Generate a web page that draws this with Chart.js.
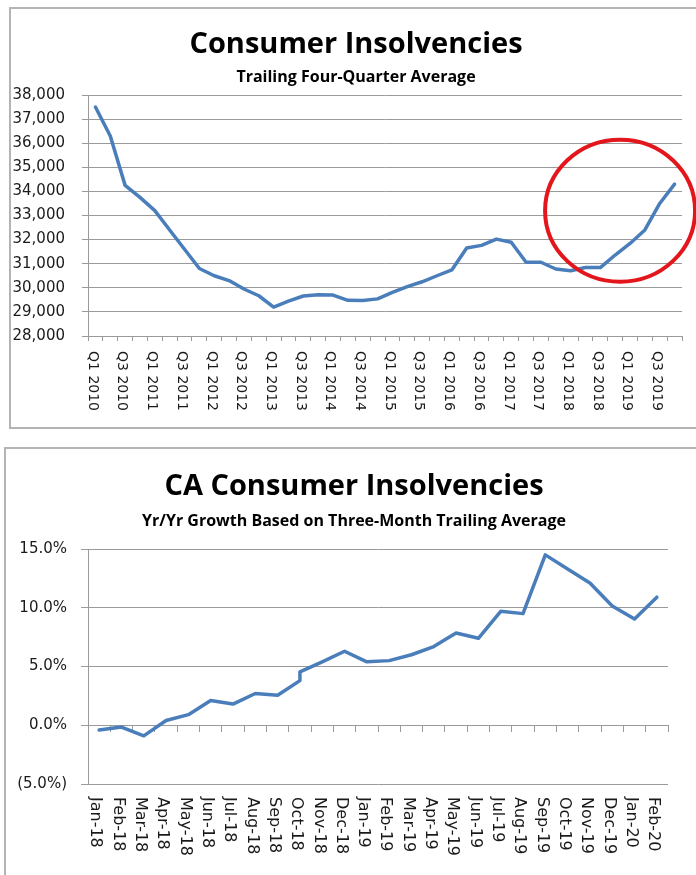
<!DOCTYPE html>
<html lang="en">
<head>
<meta charset="utf-8">
<title>Consumer Insolvencies</title>
<script src="https://cdn.jsdelivr.net/npm/chart.js@4.4.1/dist/chart.umd.min.js"></script>
<style>
  html, body { margin: 0; padding: 0; background: #fff; }
  body { position: relative; width: 696px; height: 875px; overflow: hidden; }
  .frame { position: absolute; box-sizing: border-box; border: 2px solid #b4b4b4; }
  #frameTop    { left: 9px; top: 7px;   width: 720px; height: 422px; }
  #frameBottom { left: 4px; top: 447px; width: 720px; height: 460px; }
  canvas { position: absolute; }
  #insolvencyChart { left: 9px; top: 0; }
  #growthChart     { left: 4px; top: 440px; }
</style>
</head>
<body>
<div class="frame" id="frameTop"></div>
<div class="frame" id="frameBottom"></div>
<canvas id="insolvencyChart" width="696" height="430"></canvas>
<canvas id="growthChart" width="696" height="435"></canvas>

<script>
/* ── Data: national trailing four-quarter average ───────────── */
const QUARTERS = [
  'Q1 2010', 'Q2 2010', 'Q3 2010', 'Q4 2010',
  'Q1 2011', 'Q2 2011', 'Q3 2011', 'Q4 2011',
  'Q1 2012', 'Q2 2012', 'Q3 2012', 'Q4 2012',
  'Q1 2013', 'Q2 2013', 'Q3 2013', 'Q4 2013',
  'Q1 2014', 'Q2 2014', 'Q3 2014', 'Q4 2014',
  'Q1 2015', 'Q2 2015', 'Q3 2015', 'Q4 2015',
  'Q1 2016', 'Q2 2016', 'Q3 2016', 'Q4 2016',
  'Q1 2017', 'Q2 2017', 'Q3 2017', 'Q4 2017',
  'Q1 2018', 'Q2 2018', 'Q3 2018', 'Q4 2018',
  'Q1 2019', 'Q2 2019', 'Q3 2019', 'Q4 2019',
];

const INSOLVENCIES = [
  37500, 36300, 34250, 33750,
  33200, 32400, 31600, 30800,
  30500, 30300, 29950, 29670,
  29200, 29450, 29660, 29710,
  29700, 29480, 29470, 29540,
  29810, 30050, 30250, 30500,
  30740, 31650, 31760, 32020,
  31890, 31060, 31060, 30780,
  30710, 30840, 30840, 31360,
  31840, 32400, 33500, 34300,
];

const INSOLVENCY_TICKS = { min: 28000, max: 38000, step: 1000 };

// Highlight ring around the latest upturn (category index, value)
const HIGHLIGHT = { index: 35.33, value: 33200 };

/* ── Data: CA year-over-year growth (%) ─────────────────────── */
const MONTHS = [
  'Jan-18', 'Feb-18', 'Mar-18', 'Apr-18', 'May-18', 'Jun-18',
  'Jul-18', 'Aug-18', 'Sep-18', 'Oct-18', 'Nov-18', 'Dec-18',
  'Jan-19', 'Feb-19', 'Mar-19', 'Apr-19', 'May-19', 'Jun-19',
  'Jul-19', 'Aug-19', 'Sep-19', 'Oct-19', 'Nov-19', 'Dec-19',
  'Jan-20', 'Feb-20',
];

// October 2018 has two readings, so it appears twice
const GROWTH_MONTHS = [
  'Jan-18', 'Feb-18', 'Mar-18', 'Apr-18', 'May-18', 'Jun-18',
  'Jul-18', 'Aug-18', 'Sep-18', 'Oct-18', 'Oct-18', 'Nov-18', 'Dec-18',
  'Jan-19', 'Feb-19', 'Mar-19', 'Apr-19', 'May-19', 'Jun-19',
  'Jul-19', 'Aug-19', 'Sep-19', 'Oct-19', 'Nov-19', 'Dec-19',
  'Jan-20', 'Feb-20',
];

const GROWTH = [
  -0.4, -0.15, -0.9, 0.4, 0.9, 2.1,
  1.8, 2.7, 2.55, 3.8, 4.55, 5.4, 6.3,
  5.4, 5.5, 6.0, 6.7, 7.85, 7.4,
  9.7, 9.5, 14.5, 13.3, 12.1, 10.15,
  9.05, 10.9,
];

const GROWTH_TICKS = { min: -5, max: 15, step: 5 };

/* ── Theme ──────────────────────────────────────────────────── */
const theme = {
  line:      '#4a7ebb',
  grid:      '#9a9a9a',
  text:      '#1a1a1a',
  ring:      '#e3161c',
  titleFont: "'Open Sans'",
  tickFont:  "'DejaVu Sans'",
};

/* ── Plugins ────────────────────────────────────────────────── */

// Title + subtitle, centred on the whole panel rather than the plot
const panelTitles = {
  id: 'panelTitles',
  afterDraw(chart, args, opts) {
    const ctx = chart.ctx;
    ctx.save();
    ctx.fillStyle = '#000';
    ctx.textAlign = 'center';
    ctx.textBaseline = 'alphabetic';
    opts.lines.forEach((line) => {
      ctx.font = line.font;
      ctx.fillText(line.text, opts.x, line.y);
    });
    ctx.restore();
  },
};

// Category labels written top-to-bottom under the plot
const verticalTickLabels = {
  id: 'verticalTickLabels',
  afterDraw(chart, args, opts) {
    const scale = chart.scales.x;
    const ctx = chart.ctx;
    const top = chart.chartArea.bottom + opts.gap;
    ctx.save();
    ctx.font = opts.font;
    ctx.fillStyle = theme.text;
    ctx.textAlign = 'left';
    ctx.textBaseline = 'middle';
    chart.data.labels.forEach((label, i) => {
      if (i % opts.step) return;
      ctx.save();
      ctx.translate(scale.getPixelForValue(i), top);
      ctx.rotate(Math.PI / 2);
      ctx.fillText(label, 0, opts.shift);
      ctx.restore();
    });
    ctx.restore();
  },
};

// Hand-drawn style ring around a region of the plot
const highlightRing = {
  id: 'highlightRing',
  afterDraw(chart, args, opts) {
    const cx = chart.scales.x.getPixelForValue(opts.index);
    const cy = chart.scales.y.getPixelForValue(opts.value);
    const ctx = chart.ctx;
    ctx.save();
    ctx.strokeStyle = theme.ring;
    ctx.lineWidth = 4;
    ctx.beginPath();
    ctx.ellipse(cx, cy, opts.rx, opts.ry, 0, 0, Math.PI * 2);
    ctx.stroke();
    ctx.restore();
  },
};

/* ── Shared pieces ──────────────────────────────────────────── */
function lineDataset(data) {
  return {
    data,
    borderColor: theme.line,
    borderWidth: 3.5,
    borderJoinStyle: 'round',
    borderCapStyle: 'round',
    pointRadius: 0,
    tension: 0,
    fill: false,
  };
}

const quietPlugins = {
  legend: { display: false },
  tooltip: { enabled: false },
};

/* ── Top: Consumer Insolvencies ─────────────────────────────── */
new Chart(document.getElementById('insolvencyChart'), {
  type: 'line',
  data: {
    labels: QUARTERS,
    datasets: [lineDataset(INSOLVENCIES)],
  },
  plugins: [panelTitles, verticalTickLabels, highlightRing],
  options: {
    responsive: false,
    animation: false,
    layout: { padding: { left: 1, right: 23, top: 95, bottom: 0 } },
    plugins: {
      ...quietPlugins,
      panelTitles: {
        x: 347,
        lines: [
          { text: 'Consumer Insolvencies', font: `bold 29px ${theme.titleFont}`, y: 53 },
          { text: 'Trailing Four-Quarter Average', font: `bold 16px ${theme.titleFont}`, y: 82 },
        ],
      },
      verticalTickLabels: { font: `14px ${theme.tickFont}`, gap: 15, step: 2, shift: 3 },
      highlightRing: { index: HIGHLIGHT.index, value: HIGHLIGHT.value, rx: 75, ry: 71 },
    },
    scales: {
      x: {
        offset: true,
        afterFit: (scale) => { scale.height = 94; },
        grid: {
          offset: true,
          drawOnChartArea: false,
          drawTicks: true,
          tickLength: 5,
          color: theme.grid,
        },
        border: { display: true, color: theme.grid, width: 1 },
        ticks: { display: false },
      },
      y: {
        min: INSOLVENCY_TICKS.min,
        max: INSOLVENCY_TICKS.max,
        afterFit: (scale) => { scale.width = 78; },
        grid: { color: theme.grid, tickLength: 6 },
        border: { display: true, color: theme.grid, width: 1 },
        ticks: {
          stepSize: INSOLVENCY_TICKS.step,
          padding: 17,
          color: theme.text,
          font: { family: theme.tickFont, size: 15 },
          callback: (v) => v.toLocaleString('en-US'),
        },
      },
    },
  },
});

/* ── Bottom: CA Consumer Insolvencies growth ────────────────── */
new Chart(document.getElementById('growthChart'), {
  type: 'line',
  data: {
    labels: MONTHS,
    datasets: [lineDataset(GROWTH_MONTHS.map((m, i) => ({ x: m, y: GROWTH[i] })))],
  },
  plugins: [panelTitles, verticalTickLabels],
  options: {
    responsive: false,
    animation: false,
    layout: { padding: { left: 6, right: 32, top: 109, bottom: 91 } },
    plugins: {
      ...quietPlugins,
      panelTitles: {
        x: 350,
        lines: [
          { text: 'CA Consumer Insolvencies', font: `bold 29px ${theme.titleFont}`, y: 55 },
          { text: 'Yr/Yr Growth Based on Three-Month Trailing Average', font: `bold 16px ${theme.titleFont}`, y: 86 },
        ],
      },
      verticalTickLabels: { font: `16px ${theme.tickFont}`, gap: 13, step: 1, shift: 3.5 },
    },
    scales: {
      x: {
        offset: true,
        position: { y: 0 },
        grid: {
          offset: true,
          drawOnChartArea: false,
          drawTicks: true,
          tickLength: 6,
          color: theme.grid,
        },
        border: { display: true, color: theme.grid, width: 1 },
        ticks: { display: false },
      },
      y: {
        min: GROWTH_TICKS.min,
        max: GROWTH_TICKS.max,
        afterFit: (scale) => { scale.width = 78; },
        grid: { color: theme.grid, tickLength: 7 },
        border: { display: true, color: theme.grid, width: 1 },
        ticks: {
          stepSize: GROWTH_TICKS.step,
          padding: 14,
          color: theme.text,
          font: { family: theme.tickFont, size: 15 },
          callback: (v) => (v < 0 ? `(${Math.abs(v).toFixed(1)}%)` : `${v.toFixed(1)}%`),
        },
      },
    },
  },
});
</script>
</body>
</html>
